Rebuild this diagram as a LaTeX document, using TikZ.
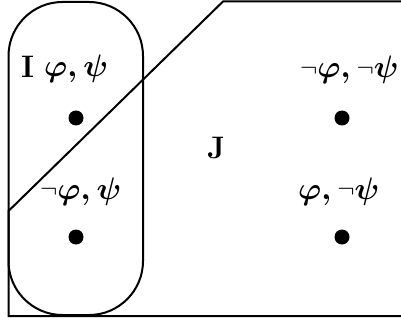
\documentclass[tikz,border=0pt]{standalone}
\usepackage{amsmath,bm}
\newcommand{\BL}[1]{\scalebox{1.25}{\Huge\boldmath #1}}
\newcommand{\nt}{\mathord{\text{\unboldmath\raisebox{1.5pt}{$\scriptstyle\neg$}}}}
\begin{document}
\begin{tikzpicture}[x=1pt,y=-1pt,
  lbl/.style={inner sep=0pt,anchor=base west},
  world/.style={circle,fill=black,inner sep=0pt,minimum size=15pt},
  edge/.style={line width=2pt}]
\useasboundingbox (0,0) rectangle (401,323);
% outer region J
\coordinate (tr) at (402,1.5);
\coordinate (tc) at (223,1.5);
\coordinate (lc) at (8.5,211);
\coordinate (bl) at (8.5,316);
\coordinate (br) at (402,316);
\draw[edge,line join=miter] (tr) -- (tc) -- (lc) -- (bl) -- (br);
% region I
\draw[edge,rounded corners=54pt] (8.5,2) rectangle (143,315);
% labels
\node[lbl] (I) at (21,78) {\BL{\textbf{I}}};
\node[lbl] (l1) at (44,77) {\BL{$\varphi,\psi$}};
\node[lbl] (l2) at (40,199) {\BL{$\nt\varphi,\psi$}};
\node[lbl] (l3) at (300,78) {\BL{$\nt\varphi,\nt\psi$}};
\node[lbl] (l4) at (298,199) {\BL{$\varphi,\nt\psi$}};
\node[lbl] (J) at (207,159) {\BL{\textbf{J}}};
% worlds
\node[world] (w1) at (76,118) {};
\node[world] (w2) at (76,237) {};
\node[world] (w3) at (342,118) {};
\node[world] (w4) at (342,237) {};
\end{tikzpicture}
\end{document}
